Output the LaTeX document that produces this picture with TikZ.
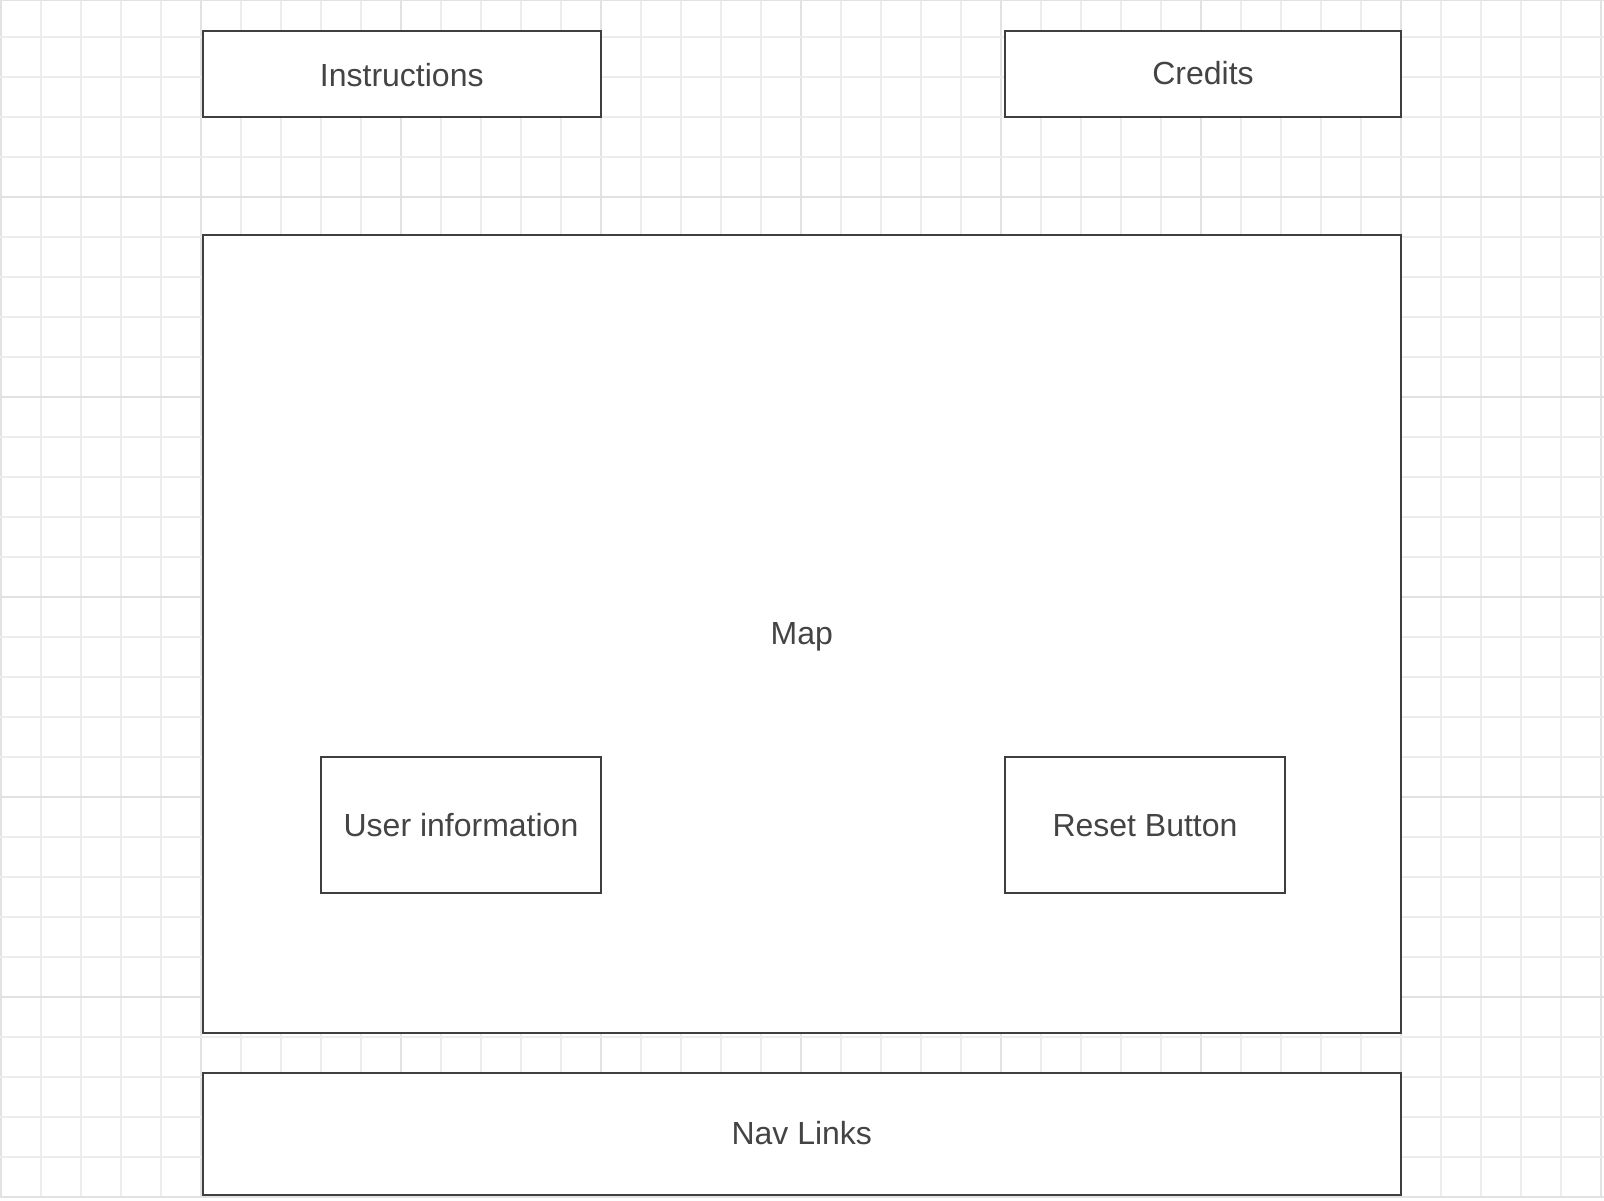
\documentclass[tikz,border=0pt]{standalone}
\usepackage{fontspec}
\setmainfont{Liberation Sans}
\definecolor{boxc}{HTML}{3F3F3F}
\definecolor{txtc}{HTML}{444444}
\definecolor{gridminor}{HTML}{EDEDED}
\definecolor{gridmajor}{HTML}{E2E2E2}
\tikzset{
  wbox/.style={draw=boxc, fill=white, line width=2pt, inner sep=0pt, outer sep=0pt,
    font=\fontsize{32}{38}\selectfont, text=txtc, text height=23pt, text depth=0pt},
  gminor/.style={draw=gridminor, line width=1.4pt},
  gmajor/.style={draw=gridmajor, line width=1.8pt}
}
\begin{document}
\begin{tikzpicture}[x=1pt,y=-1pt]
\useasboundingbox (0,0) rectangle (1604,1200);
\fill[white] (0,0) rectangle (1604,1200);
% grid
\foreach \i in {0,...,40} {
  \pgfmathsetmacro{\gx}{1+40*\i}
  \pgfmathtruncatemacro{\m}{mod(\i,5)}
  \ifnum\m=0
    \draw[gmajor] (\gx,0) -- (\gx,1197);
  \else
    \draw[gminor] (\gx,0) -- (\gx,1197);
  \fi
}
\foreach \k in {1,...,30} {
  \pgfmathsetmacro{\gy}{-3+40*\k}
  \pgfmathtruncatemacro{\m}{mod(\k,5)}
  \ifnum\m=0
    \draw[gmajor] (0,\gy) -- (1604,\gy);
  \else
    \draw[gminor] (0,\gy) -- (1604,\gy);
  \fi
}
\draw[gmajor] (0,0.5) -- (1604,0.5);
% boxes
\node[wbox, minimum width=398.5pt, minimum height=86pt, text height=25pt] (instr) at (401.75,74) {Instructions};
\node[wbox, minimum width=396pt, minimum height=86pt, text depth=2pt] (credits) at (1203,74) {Credits};
\node[wbox, minimum width=1198.5pt, minimum height=798pt, text depth=2pt] (map) at (801.75,634) {Map};
\node[wbox, minimum width=280pt, minimum height=136pt] (user) at (461,825) {User information};
\node[wbox, minimum width=280pt, minimum height=136pt] (reset) at (1145,825) {Reset Button};
\node[wbox, minimum width=1198.5pt, minimum height=122pt, text depth=2pt] (nav) at (801.75,1134) {Nav Links};
\end{tikzpicture}
\end{document}
